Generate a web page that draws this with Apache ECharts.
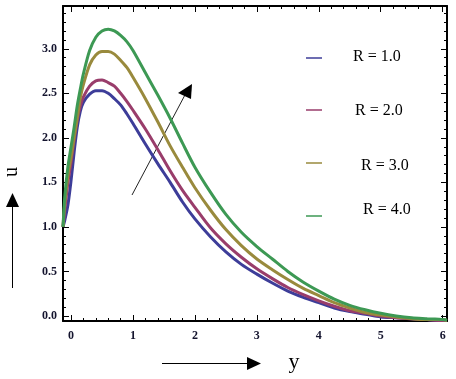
<html>
<head>
<meta charset="utf-8">
<title>u profile</title>
<script src="https://cdn.jsdelivr.net/npm/echarts@6/dist/echarts.min.js"></script>
</head>
<body style="margin:0">
<div id="main" style="width:456px;height:379px;"></div>
<script type="text/javascript">
// y values (horizontal axis)
var ys = [-0.13, -0.1, -0.05, 0, 0.05, 0.1, 0.15, 0.2, 0.3, 0.4, 0.5, 0.6, 0.7, 0.8, 0.9, 1.0,
          1.2, 1.4, 1.6, 1.8, 2.0, 2.25, 2.5, 2.75, 3.0, 3.25, 3.5, 3.75, 4.0, 4.25, 4.5, 4.75,
          5.0, 5.25, 5.5, 5.75, 6.0, 6.07];
// u for each R
var uR1 = [1.0, 1.08, 1.25, 1.52, 1.84, 2.12, 2.3, 2.4, 2.49, 2.53, 2.53, 2.5, 2.44, 2.37, 2.27, 2.16,
           1.93, 1.71, 1.5, 1.28, 1.09, 0.89, 0.72, 0.58, 0.47, 0.37, 0.28, 0.21, 0.15, 0.09, 0.05, 0.02,
           -0.01, -0.02, -0.03, -0.04, -0.05, -0.05];
var uR2 = [1.0, 1.2, 1.5, 1.72, 1.98, 2.2, 2.36, 2.46, 2.58, 2.64, 2.65, 2.62, 2.58, 2.5, 2.41, 2.31,
           2.1, 1.87, 1.63, 1.41, 1.22, 0.99, 0.81, 0.66, 0.53, 0.42, 0.32, 0.24, 0.17, 0.11, 0.06, 0.03,
           0.0, -0.02, -0.03, -0.04, -0.05, -0.05];
var uR3 = [1.0, 1.28, 1.58, 1.78, 2.0, 2.22, 2.45, 2.6, 2.82, 2.93, 2.97, 2.97, 2.94, 2.87, 2.79, 2.68,
           2.44, 2.18, 1.91, 1.67, 1.44, 1.19, 0.97, 0.79, 0.64, 0.52, 0.41, 0.31, 0.23, 0.15, 0.09, 0.04,
           0.01, -0.01, -0.03, -0.04, -0.04, -0.05];
var uR4 = [1.0, 1.35, 1.68, 1.9, 2.12, 2.36, 2.55, 2.72, 2.98, 3.13, 3.2, 3.22, 3.2, 3.15, 3.08, 2.98,
           2.73, 2.48, 2.22, 1.94, 1.67, 1.39, 1.14, 0.94, 0.78, 0.64, 0.5, 0.38, 0.28, 0.19, 0.12, 0.07,
           0.03, 0.0, -0.02, -0.03, -0.04, -0.045];
var names = ['R = 1.0', 'R = 2.0', 'R = 3.0', 'R = 4.0'];
var colors = ['#3d3d99', '#993d6b', '#998a3d', '#3d9954'];
var xTicks = [0, 1, 2, 3, 4, 5, 6];
var yTicks = [0, 0.5, 1.0, 1.5, 2.0, 2.5, 3.0];

var xMin = -0.13, xMax = 6.07, yMin = -0.056, yMax = 3.48;

var xMinor = [];
for (var i = 1; i <= 30; i++) { if (i % 5) xMinor.push(i * 0.2); }
var yMinor = [];
for (var j = 1; j <= 34; j++) { if (j % 5) yMinor.push(j * 0.1); }

function pairs(u) {
    return ys.map(function (y, k) { return [y, u[k]]; });
}

var labelFont = { fontFamily: 'Liberation Serif', fontWeight: 'bold', fontSize: 12, color: '#14142e' };

function xAx(pos, ticks, len, showLine, labels) {
    return {
        type: 'value', position: pos, min: xMin, max: xMax,
        axisLine: { show: showLine, onZero: false, lineStyle: { color: '#000', width: 2 } },
        axisTick: { inside: true, length: len, customValues: ticks, lineStyle: { color: '#000' } },
        axisLabel: labels ? Object.assign({ customValues: xTicks, margin: 9 }, labelFont) : { show: false },
        splitLine: { show: false }
    };
}
function yAx(pos, ticks, len, showLine, labels) {
    return {
        type: 'value', position: pos, min: yMin, max: yMax,
        axisLine: { show: showLine, onZero: false, lineStyle: { color: '#000', width: 2 } },
        axisTick: { inside: true, length: len, customValues: ticks, lineStyle: { color: '#000' } },
        axisLabel: labels ? Object.assign({ customValues: yTicks, margin: 6,
            formatter: function (v) { return v.toFixed(1); } }, labelFont) : { show: false },
        splitLine: { show: false }
    };
}

var myChart = echarts.init(document.getElementById('main'));

var series = [uR1, uR2, uR3, uR4].map(function (u, k) {
    return {
        name: names[k], type: 'line', xAxisIndex: 0, yAxisIndex: 0,
        data: pairs(u), smooth: 0.3, symbol: 'none',
        lineStyle: { color: colors[k], width: 3 }
    };
});

// legend entries drawn by hand (uneven spacing in the original)
var legendPos = [[58, 353, 57], [110, 355, 111], [163, 361, 166], [216, 363, 210]];
var graphics = [];
legendPos.forEach(function (p, k) {
    graphics.push({ type: 'line', shape: { x1: 306, y1: p[0], x2: 322, y2: p[0] },
        style: { stroke: colors[k], lineWidth: 1.5 } });
    graphics.push({ type: 'text', x: p[1], y: p[2],
        style: { text: names[k], font: '16px "Liberation Serif"', fill: '#000', textVerticalAlign: 'middle' } });
});
// arrow inside plot
graphics.push({ type: 'line', shape: { x1: 132, y1: 195, x2: 186, y2: 93 }, style: { stroke: '#222', lineWidth: 1 } });
graphics.push({ type: 'polygon', shape: { points: [[192, 84], [178, 93], [191, 99]] }, style: { fill: '#000' } });
// axis names with arrows
graphics.push({ type: 'text', x: 12, y: 172, rotation: Math.PI / 2,
    style: { text: 'u', font: '20px "Liberation Serif"', fill: '#000', textAlign: 'center', textVerticalAlign: 'middle' } });
graphics.push({ type: 'line', shape: { x1: 12.5, y1: 288, x2: 12.5, y2: 205 }, style: { stroke: '#000', lineWidth: 1 } });
graphics.push({ type: 'polygon', shape: { points: [[12.5, 193], [6, 207], [19, 207]] }, style: { fill: '#000' } });
graphics.push({ type: 'line', shape: { x1: 162, y1: 363.5, x2: 248, y2: 363.5 }, style: { stroke: '#000', lineWidth: 1 } });
graphics.push({ type: 'polygon', shape: { points: [[261, 363.5], [247, 357], [247, 370]] }, style: { fill: '#000' } });
graphics.push({ type: 'text', x: 294, y: 362,
    style: { text: 'y', font: '22px "Liberation Serif"', fill: '#000', textAlign: 'center', textVerticalAlign: 'middle' } });

var option = {
    animation: false,
    backgroundColor: '#fff',
    grid: { left: 63, right: 9, top: 6, bottom: 58 },
    xAxis: [
        xAx('bottom', xTicks, 6, true, true),
        xAx('bottom', xMinor, 3, false, false),
        xAx('top', xTicks, 6, true, false),
        xAx('top', xMinor, 3, false, false)
    ],
    yAxis: [
        yAx('left', yTicks, 6, true, true),
        yAx('left', yMinor, 3, false, false),
        yAx('right', yTicks, 6, true, false),
        yAx('right', yMinor, 3, false, false)
    ],
    series: series,
    graphic: graphics
};

myChart.setOption(option);
</script>
</body>
</html>
